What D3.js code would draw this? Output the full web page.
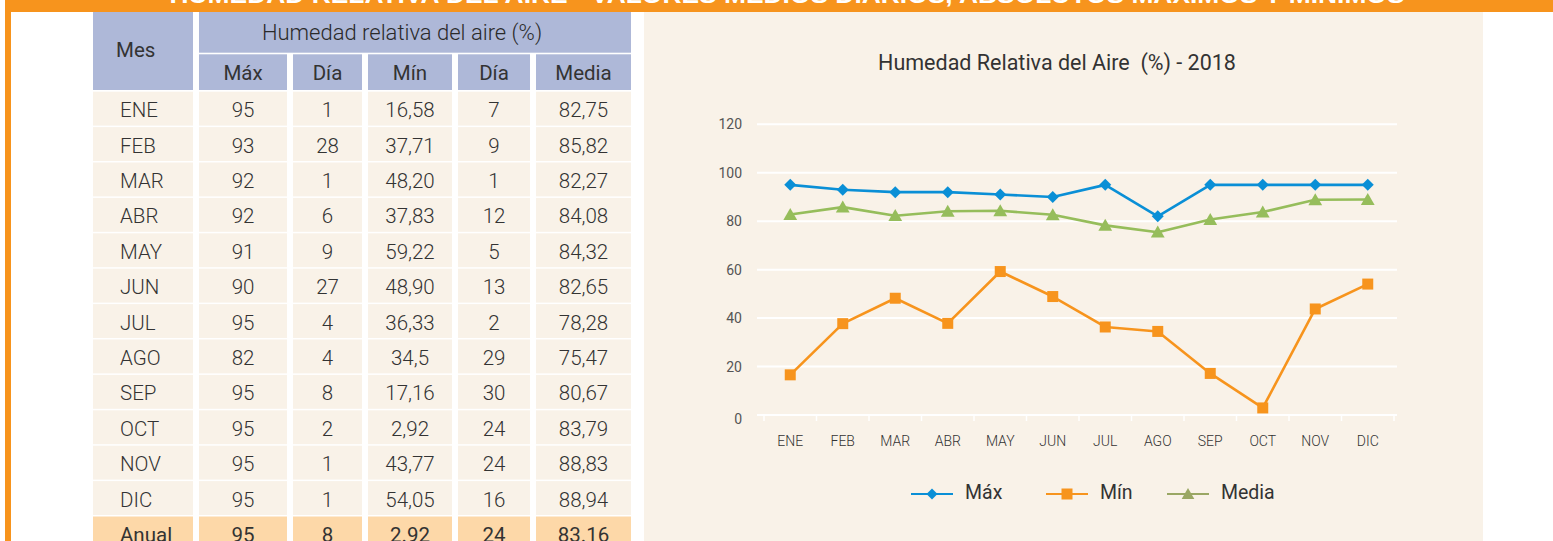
<!DOCTYPE html>
<html>
<head>
<meta charset="utf-8">
<script src="https://cdn.jsdelivr.net/npm/d3@7"></script>
<style>
  html, body { margin: 0; padding: 0; background: #ffffff; }
  svg { display: block; }
</style>
</head>
<body>
<svg id="chart" width="1553" height="541"></svg>
<script>
// ---------- DATA ----------
const bannerTitle = "HUMEDAD RELATIVA DEL AIRE - VALORES MEDIOS DIARIOS, ABSOLUTOS MÁXIMOS Y MÍNIMOS";
const chartTitle = "Humedad Relativa del Aire  (%) - 2018";
const tableGroupHeader = "Humedad relativa del aire (%)";
const tableHeaders = ["Mes", "Máx", "Día", "Mín", "Día", "Media"];
const months = ["ENE", "FEB", "MAR", "ABR", "MAY", "JUN", "JUL", "AGO", "SEP", "OCT", "NOV", "DIC"];
const maxVals = [95, 93, 92, 92, 91, 90, 95, 82, 95, 95, 95, 95];
const maxDays = [1, 28, 1, 6, 9, 27, 4, 4, 8, 2, 1, 1];
const minText = ["16,58", "37,71", "48,20", "37,83", "59,22", "48,90", "36,33", "34,5", "17,16", "2,92", "43,77", "54,05"];
const minDays = [7, 9, 1, 12, 5, 13, 2, 29, 30, 24, 24, 16];
const mediaText = ["82,75", "85,82", "82,27", "84,08", "84,32", "82,65", "78,28", "75,47", "80,67", "83,79", "88,83", "88,94"];
const annualRow = ["Anual", "95", "8", "2.92", "24", "83.16"];
const yTicks = [0, 20, 40, 60, 80, 100, 120];
const seriesNames = ["Máx", "Mín", "Media"];

const minVals = minText.map(s => +s.replace(",", "."));
const mediaVals = mediaText.map(s => +s.replace(",", "."));

// ---------- STYLE ----------
const ORANGE = "#f7941d";
const LAVENDER = "#aeb8d8";
const BEIGE = "#f9f2e8";
const PEACH = "#fdd8a8";
const TEXT = "#333333";
const COLORS = { "Máx": "#0a8fd6", "Mín": "#f7941d", "Media": "#96bd5b" };
const LEGEND_COLORS = { "Máx": "#0a8fd6", "Mín": "#f7941d", "Media": "#9aa764" };
const TFONT = "Roboto, 'Liberation Sans', Arial, sans-serif";

const svg = d3.select("#chart");

// ---------- FRAME ----------
svg.append("rect").attr("x", 5).attr("y", 0).attr("width", 1548).attr("height", 12).attr("fill", ORANGE);
svg.append("rect").attr("x", 5).attr("y", 0).attr("width", 6).attr("height", 541).attr("fill", ORANGE);
svg.append("text")
  .attr("x", 787).attr("y", 3)
  .attr("text-anchor", "middle")
  .attr("textLength", 1235).attr("lengthAdjust", "spacingAndGlyphs")
  .attr("font-family", "'Liberation Sans', Arial, sans-serif")
  .attr("font-weight", "bold").attr("font-size", 24)
  .attr("fill", "#ffffff")
  .text(bannerTitle);

// ---------- TABLE ----------
const cols = [[93, 193], [199, 287], [293, 362], [368, 452], [458, 530], [536, 631]];
const rowTop0 = 91.7, rowPitch = 35.4, rowH = 33.9;
const tbl = svg.append("g").attr("font-family", TFONT).attr("font-weight", 300).attr("fill", TEXT);

// header
tbl.append("rect").attr("x", cols[0][0]).attr("y", 12).attr("width", cols[0][1] - cols[0][0]).attr("height", 78).attr("fill", LAVENDER);
tbl.append("rect").attr("x", cols[1][0]).attr("y", 12).attr("width", cols[5][1] - cols[1][0]).attr("height", 40.7).attr("fill", LAVENDER);
tbl.append("text").attr("x", 402).attr("y", 32).attr("text-anchor", "middle").attr("dominant-baseline", "central")
  .attr("font-size", 22).attr("font-weight", 300).attr("fill", "#2a2a2a").text(tableGroupHeader);
tbl.append("text").attr("x", 116).attr("y", 50).attr("dominant-baseline", "central")
  .attr("font-size", 20.5).attr("font-weight", 400).text(tableHeaders[0]);
cols.slice(1).forEach((c, i) => {
  tbl.append("rect").attr("x", c[0]).attr("y", 54.3).attr("width", c[1] - c[0]).attr("height", 35.7).attr("fill", LAVENDER);
  tbl.append("text").attr("x", (c[0] + c[1]) / 2).attr("y", 73).attr("text-anchor", "middle").attr("dominant-baseline", "central")
    .attr("font-size", 20.5).attr("font-weight", 400).text(tableHeaders[i + 1]);
});

// body rows
const rows = months.map((m, i) => [m, String(maxVals[i]), String(maxDays[i]), minText[i], String(minDays[i]), mediaText[i]]);
rows.push(annualRow);
rows.forEach((r, ri) => {
  const top = rowTop0 + ri * rowPitch;
  const isAnnual = ri === rows.length - 1;
  r.forEach((v, ci) => {
    const c = cols[ci];
    tbl.append("rect").attr("x", c[0]).attr("y", top).attr("width", c[1] - c[0]).attr("height", rowH)
      .attr("fill", isAnnual ? PEACH : BEIGE);
    tbl.append("text")
      .attr("x", ci === 0 ? 120 : (c[0] + c[1]) / 2)
      .attr("y", top + rowH / 2 + 1.5)
      .attr("text-anchor", ci === 0 ? "start" : "middle")
      .attr("dominant-baseline", "central")
      .attr("font-size", 20.5)
      .attr("font-weight", isAnnual ? 400 : 300)
      .text(v);
  });
});

// ---------- CHART PANEL ----------
svg.append("rect").attr("x", 644).attr("y", 12).attr("width", 839).attr("height", 529).attr("fill", BEIGE);

svg.append("text").attr("x", 1057).attr("y", 62).attr("text-anchor", "middle")
  .attr("dominant-baseline", "central")
  .style("white-space", "pre")
  .attr("font-family", TFONT).attr("font-size", 21.5).attr("fill", TEXT).text(chartTitle);

const x = d3.scaleBand().domain(months).range([764, 1394]);
const y = d3.scaleLinear().domain([0, 120]).range([415, 124.3]);
const gx0 = 757, gx1 = 1397;

// gridlines
svg.append("g").selectAll("line").data(yTicks.filter(d => d > 0)).join("line")
  .attr("x1", gx0).attr("x2", gx1)
  .attr("y1", d => y(d)).attr("y2", d => y(d))
  .attr("stroke", "#ffffff").attr("stroke-width", 2);

// y labels
svg.append("g").selectAll("text").data(yTicks).join("text")
  .attr("x", 742).attr("y", d => y(d) + (d === 0 ? 4 : 0))
  .attr("text-anchor", "end").attr("dominant-baseline", "central")
  .attr("font-family", TFONT).attr("font-size", 14).attr("fill", "#555555")
  .text(d => d);

// x axis
const xAxis = svg.append("g");
xAxis.append("line").attr("x1", gx0).attr("x2", gx1).attr("y1", y(0)).attr("y2", y(0))
  .attr("stroke", "#ffffff").attr("stroke-width", 2);
const bounds = months.map(m => x(m)).concat([x(months[months.length - 1]) + x.bandwidth()]);
xAxis.selectAll("line.tick").data(bounds).join("line").attr("class", "tick")
  .attr("x1", d => d).attr("x2", d => d).attr("y1", y(0)).attr("y2", y(0) + 6)
  .attr("stroke", "#ffffff").attr("stroke-width", 1.5);
xAxis.selectAll("text").data(months).join("text")
  .attr("x", d => x(d) + x.bandwidth() / 2).attr("y", 441)
  .attr("text-anchor", "middle").attr("dominant-baseline", "central")
  .attr("font-family", TFONT).attr("font-size", 14).attr("font-weight", 300).attr("fill", "#333333")
  .text(d => d);

// series
const seriesData = { "Máx": maxVals, "Mín": minVals, "Media": mediaVals };
function markerPath(name, s) {
  if (name === "Máx") return `M0,${-s}L${s},0L0,${s}L${-s},0Z`;
  if (name === "Mín") return `M${-s},${-s}H${s}V${s}H${-s}Z`;
  return `M0,${-s * 1.1}L${s * 1.15},${s * 0.9}L${-s * 1.15},${s * 0.9}Z`;
}
const cx = m => x(m) + x.bandwidth() / 2;
const line = d3.line().x((d, i) => cx(months[i])).y(d => y(d));

["Media", "Mín", "Máx"].forEach(name => {
  const vals = seriesData[name];
  const g = svg.append("g");
  g.append("path").attr("d", line(vals)).attr("fill", "none")
    .attr("stroke", COLORS[name]).attr("stroke-width", 2.6).attr("stroke-linejoin", "round");
  g.selectAll("path.mk").data(vals).join("path").attr("class", "mk")
    .attr("transform", (d, i) => `translate(${cx(months[i])},${y(d)})`)
    .attr("d", markerPath(name, name === "Máx" ? 6 : (name === "Mín" ? 5.5 : 6)))
    .attr("fill", COLORS[name]);
});

// legend
const legendX = [911, 1046, 1167];
const legend = svg.append("g");
seriesNames.forEach((name, i) => {
  const lx = legendX[i], ly = 494;
  legend.append("line").attr("x1", lx).attr("x2", lx + 42).attr("y1", ly).attr("y2", ly)
    .attr("stroke", LEGEND_COLORS[name]).attr("stroke-width", 2.2);
  legend.append("path").attr("transform", `translate(${lx + 21},${ly})`)
    .attr("d", markerPath(name, 5.5))
    .attr("fill", LEGEND_COLORS[name]);
  legend.append("text").attr("x", lx + 54).attr("y", ly + 5)
    .attr("font-family", TFONT).attr("font-size", 19.5).attr("fill", TEXT)
    .text(name);
});
</script>
</body>
</html>
